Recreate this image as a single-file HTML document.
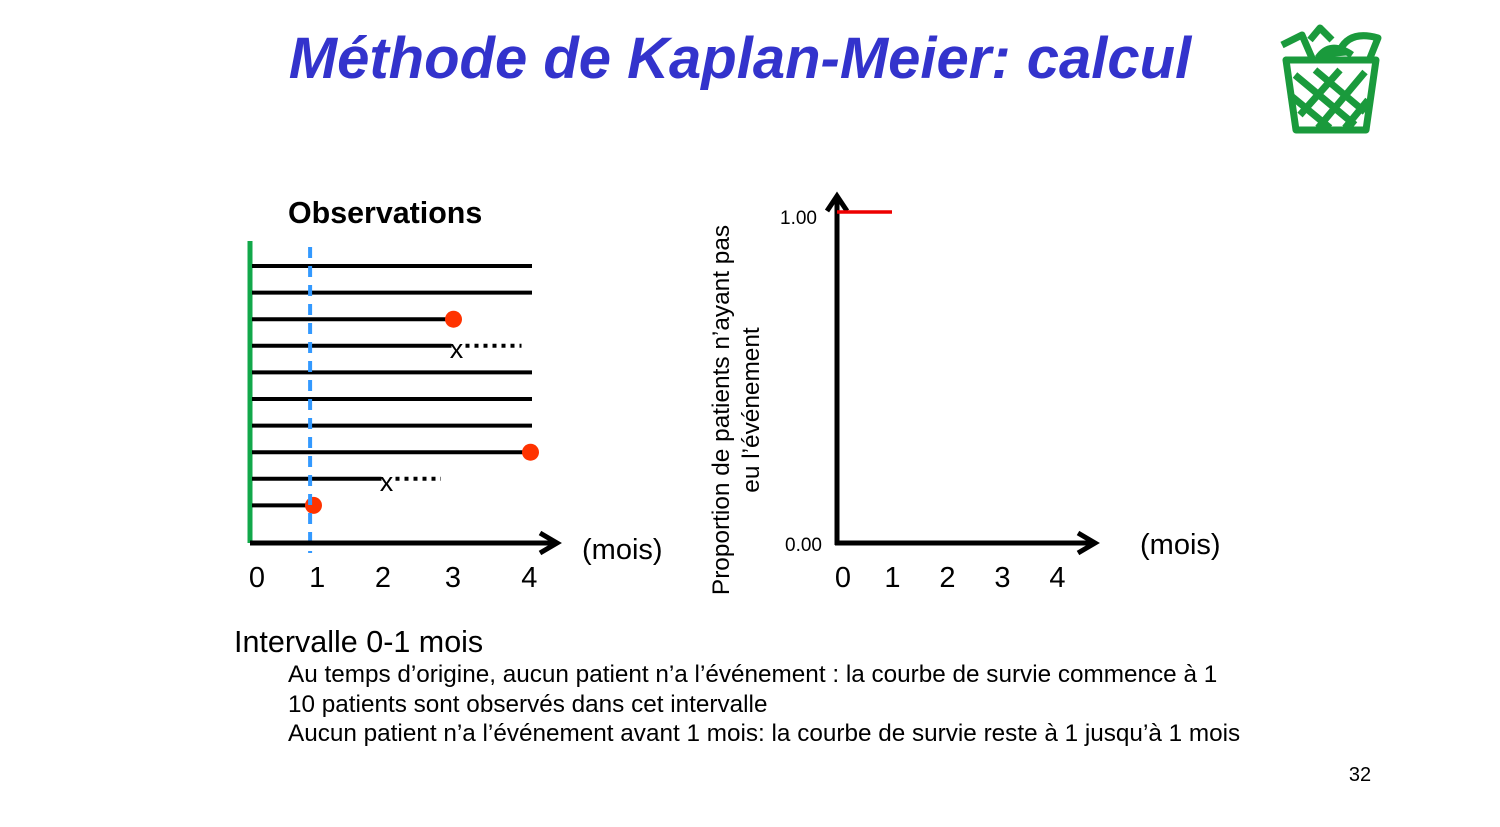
<!DOCTYPE html>
<html><head><meta charset="utf-8"><style>
html,body{margin:0;padding:0;background:#fff;}
svg{display:block;font-family:"Liberation Sans",sans-serif;}
</style></head><body>
<svg id="s" width="1500" height="827" viewBox="0 0 1500 827">
<text x="740" y="78" text-anchor="middle" font-size="58" font-weight="bold" font-style="italic" fill="#3333cc">Méthode de Kaplan-Meier: calcul</text>
<g stroke="#1a9a3c" fill="none" stroke-width="7" stroke-linejoin="round">
<path d="M1286 60 L1376 60 L1366 130 L1296 130 Z" fill="#fff"/>
<path d="M1295 75 L1355 125 M1315 70 L1365 112 M1290 95 L1330 128 M1340 70 L1300 115 M1365 72 L1318 128 M1368 100 L1345 128"/>
<path d="M1282 45 L1302 35 L1312 58 M1310 40 L1320 28 L1332 40 M1340 50 Q1350 30 1378 38 L1370 58"/>
<path d="M1318 58 Q1330 40 1352 55" fill="#1a9a3c"/>
</g>
<text x="288" y="223" font-size="30.4" font-weight="bold">Observations</text>
<g id="left"></g>
<g id="right"></g>
<text x="234" y="652" font-size="30.5">Intervalle 0-1 mois</text>
<g font-size="24.3">
<text x="288" y="682">Au temps d’origine, aucun patient n’a l’événement : la courbe de survie commence à 1</text>
<text x="288" y="712">10 patients sont observés dans cet intervalle</text>
<text x="288" y="741">Aucun patient n’a l’événement avant 1 mois: la courbe de survie reste à 1 jusqu’à 1 mois</text>
</g>
<text x="1360" y="781" font-size="20" text-anchor="middle">32</text>
</svg>
<script>
// Left chart data
const patientEnd = [4, 4, 2.85, 2.85, 4, 4, 4, 3.95, 1.85, 0.85];
const patientStatus = ['open','open','event','censor','open','open','open','event','censor','event'];
const censorDotEnd = [0, 0, 0, 3.85, 0, 0, 0, 0, 2.7, 0];
const leftTicks = [0, 0.86, 1.8, 2.8, 3.89];
const leftTickLabels = ['0','1','2','3','4'];
// Right chart data
const kmTimes = [0, 1];
const kmSurv = [1, 1];
const rightTicks = [0, 0.9, 1.9, 2.9, 3.9];
const rightTickLabels = ['0','1','2','3','4'];
const yTicks = [0, 1];
const yTickLabels = ['0.00','1.00'];

const NS='http://www.w3.org/2000/svg';
function mk(p,t,a){const e=document.createElementNS(NS,t);for(const k in a)e.setAttribute(k,a[k]);p.appendChild(e);return e;}
const L=document.getElementById('left');
const lx=t=>252+70*t;
const ly=i=>266+26.6*i;
let e=mk(L,'line',{x1:250,y1:241,x2:250,y2:543,stroke:'#12a84a','stroke-width':5});


patientEnd.forEach((t,i)=>{
  const y=ly(i);
  let l=mk(L,'line',{x1:lx(0),y1:y,x2:lx(t),y2:y,stroke:'#000','stroke-width':4});
  
  
  if(patientStatus[i]==='event'){
    let c=mk(L,'circle',{cx:lx(t)+2,cy:y,r:8.5,fill:'#ff3300'});
    
    
  } else if(patientStatus[i]==='censor'){
    let x=mk(L,'text',{x:lx(t)+5,y:y+12,'font-size':27,'text-anchor':'middle'});x.textContent='x';
    
    
    let d=mk(L,'line',{x1:lx(t)+14,y1:y,x2:lx(censorDotEnd[i]),y2:y,stroke:'#000','stroke-width':4,'stroke-dasharray':'4 5'});
    
    
  }
});
e=mk(L,'line',{x1:lx(0.83),y1:247,x2:lx(0.83),y2:553,stroke:'#3399ff','stroke-width':4,'stroke-dasharray':'11 8'});


e=mk(L,'path',{d:'M250 543 L556 543 M540 533 L557 543 L540 553',stroke:'#000','stroke-width':5,fill:'none'});


leftTicks.forEach((t,i)=>{
  let tx=mk(L,'text',{x:lx(t)+5,y:587,'font-size':29,'text-anchor':'middle'});tx.textContent=leftTickLabels[i];
  
  
});
e=mk(L,'text',{x:582,y:559,'font-size':29});e.textContent='(mois)';



const R=document.getElementById('right');
const rx=t=>837+55*t;
const ry=v=>543-331*v;
e=mk(R,'path',{d:'M837 545 L837 196 M827 211 L837 196 L847 211',stroke:'#000','stroke-width':5,fill:'none'});


e=mk(R,'path',{d:'M835 543 L1095 543 M1078 533 L1095 543 L1078 553',stroke:'#000','stroke-width':5,fill:'none'});


let pd='';
kmTimes.forEach((t,i)=>{pd+=(i?' L':'M')+rx(t)+' '+ry(kmSurv[i]);});
e=mk(R,'path',{d:pd,stroke:'#ee0000','stroke-width':3.5,fill:'none'});


rightTicks.forEach((t,i)=>{
  let tx=mk(R,'text',{x:rx(t)+6,y:587,'font-size':29,'text-anchor':'middle'});tx.textContent=rightTickLabels[i];
  
  
});
yTicks.forEach((v,i)=>{
  let tx=mk(R,'text',{x:i?817:822,y:ry(v)+(i?12:8),'font-size':19,'text-anchor':'end'});tx.textContent=yTickLabels[i];
  
  
});
e=mk(R,'text',{x:1140,y:554,'font-size':29});e.textContent='(mois)';


const yt=mk(R,'text',{transform:'translate(729,410) rotate(-90)','font-size':24.4,'text-anchor':'middle'});


mk(yt,'tspan',{x:0,y:0}).textContent='Proportion de patients n’ayant pas';
mk(yt,'tspan',{x:0,y:30}).textContent='eu l’événement';
</script>
</body></html>
